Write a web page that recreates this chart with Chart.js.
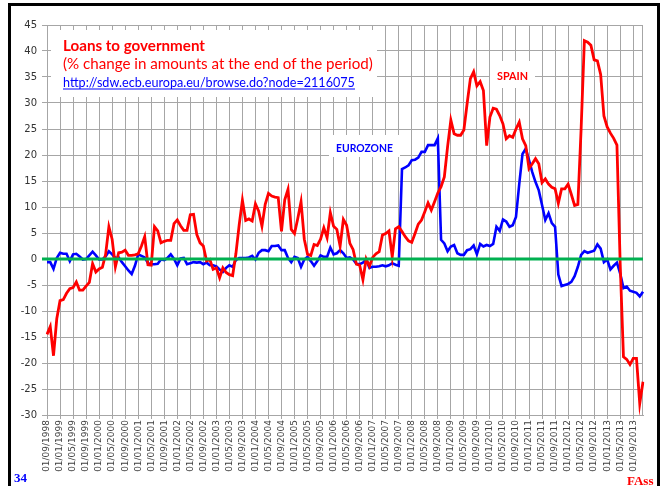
<!DOCTYPE html>
<html>
<head>
<meta charset="utf-8">
<script src="https://cdn.jsdelivr.net/npm/chart.js@4.4.1/dist/chart.umd.min.js"></script>
<style>
  html, body { margin: 0; padding: 0; background: #fff; }
  #wrap { width: 666px; height: 486px; }
</style>
</head>
<body>
<div id="wrap"><canvas id="loans_chart" width="666" height="486"></canvas></div>
<script>
// monthly % change, Sept 1998 .. Dec 2013
const spain = [
      -14.5, -13.0, -18.6, -11.5, -8.0, -7.8, -6.6, -5.7, -5.5, -4.4, -6.0, -6.0,
      -5.2, -4.5, -0.9, -2.5, -1.9, -1.6, 0.9, 6.2, 3.8, -1.5, 1.2, 1.3,
      1.7, 0.7, 0.7, 0.8, 1.0, 2.5, 4.3, -1.1, -1.2, 6.2, 5.4, 3.1,
      3.4, 3.6, 3.6, 6.8, 7.5, 6.4, 5.5, 5.5, 8.5, 8.6, 4.7, 3.1,
      2.5, -0.4, -0.1, -2.0, -1.7, -3.6, -1.7, -2.6, -3.0, -3.2, 1.0, 6.5,
      11.3, 7.4, 7.7, 7.3, 10.6, 9.2, 6.3, 10.5, 12.6, 12.1, 11.9, 11.8,
      5.3, 11.4, 13.4, 5.7, 4.9, 7.8, 11.0, 3.8, 0.9, 0.7, 2.8, 2.6,
      3.8, 6.0, 4.1, 8.9, 6.3, 5.7, 2.5, 7.6, 6.5, 3.0, 1.8, -1.0,
      -1.2, -4.0, 0.0, -1.4, 0.3, 1.0, 1.4, 4.6, 4.9, 5.4, 0.4, 5.8,
      6.2, 5.3, 4.3, 3.5, 3.2, 4.9, 6.7, 7.5, 9.1, 10.8, 9.4, 11.0,
      12.7, 13.9, 15.8, 21.6, 26.7, 24.1, 23.8, 23.8, 24.8, 29.9, 34.7, 36.0,
      33.3, 34.1, 32.4, 21.8, 27.3, 29.0, 28.8, 27.6, 26.0, 23.1, 23.7, 23.4,
      25.0, 26.3, 23.1, 21.8, 17.4, 18.3, 19.3, 18.3, 14.7, 15.4, 14.4, 13.8,
      13.5, 10.7, 13.5, 13.5, 14.4, 12.4, 10.3, 10.5, 25.0, 42.0, 41.7, 41.1,
      38.3, 38.1, 35.5, 27.5, 25.4, 24.2, 23.2, 21.9, -1.0, -18.8, -19.3, -20.3,
      -19.1, -19.1, -27.8, -23.6
];
const eurozone = [
      -0.6, -0.6, -1.9, 0.2, 1.2, 1.0, 1.0, -0.4, 0.9, 1.0, 0.5, -0.1,
      0.0, 0.7, 1.4, 0.7, -0.1, -0.1, 0.5, 1.5, 0.9, 0.2, 0.3, -0.6,
      -1.4, -2.2, -2.9, -1.3, 0.9, 0.6, 0.3, -0.8, -1.0, -1.0, -0.9, -0.1,
      -0.2, 0.2, 0.9, 0.0, -1.2, 0.1, 0.2, -1.0, -0.8, -0.6, -0.7, -0.6,
      -1.0, -0.7, -1.2, -1.2, -1.4, -2.0, -2.5, -1.7, -1.2, -1.5, -0.2, 0.2,
      0.2, 0.2, 0.3, 0.6, -0.1, 1.2, 1.7, 1.7, 1.5, 2.5, 2.5, 2.6,
      1.7, 1.7, 0.2, -0.6, 0.4, 0.2, -1.5, -0.1, 0.4, -0.4, -1.3, -0.4,
      0.7, 0.4, 0.4, 2.2, 0.9, 1.1, 1.7, 1.1, 0.2, 0.3, -0.1, -0.9,
      -1.0, -0.7, -0.1, -1.7, -1.5, -1.5, -1.4, -1.2, -1.4, -1.2, -0.8, -1.1,
      -1.3, 17.3, 17.6, 18.0, 19.0, 19.1, 19.5, 20.6, 20.6, 21.9, 21.9, 21.9,
      23.2, 3.7, 3.0, 1.5, 2.4, 2.7, 1.1, 0.8, 0.8, 1.7, 1.9, 2.6,
      0.9, 2.9, 2.4, 2.7, 2.5, 2.9, 6.2, 5.4, 7.6, 7.2, 6.2, 6.5,
      8.1, 14.4, 20.2, 21.2, 19.0, 16.7, 14.8, 13.2, 10.4, 7.5, 8.8, 6.9,
      6.2, -3.0, -5.2, -5.0, -4.8, -4.4, -3.3, -1.5, 0.8, 1.5, 1.2, 1.4,
      1.6, 2.8, 2.0, -0.6, -0.1, -2.0, -1.3, -0.7, -2.8, -5.6, -5.3, -6.1,
      -6.3, -6.5, -7.2, -6.3
];
const startYear = 1998;
const startMonth = 9;
const labelEvery = 4;

const titleLines = [
      'Loans to government',
      '(% change in amounts at the end of the period)',
      'http://sdw.ecb.europa.eu/browse.do?node=2116075'
];
const seriesNames = ['SPAIN', 'EUROZONE'];
const pageNumber = '34';
const signature = 'FAss';

// category labels, one per month
const labels = [];
for (let i = 0; i < spain.length; i++)
{
      const t = startMonth - 1 + i;
      const mm = (t % 12) + 1;
      const yy = startYear + Math.floor(t / 12);
      labels.push('01/' + (mm < 10 ? '0' + mm : mm) + '/' + yy);
}

const gridGray = '#a6a6a6';

function fitFont(ctx, text, weight, family, width)
{
      ctx.font = weight + ' 100px ' + family;
      const size = 100 * width / ctx.measureText(text).width;
      ctx.font = weight + ' ' + size.toFixed(2) + 'px ' + family;
}

const decor = {
      id: 'decor',
      beforeDatasetsDraw(chart)
      {
            const ctx = chart.ctx;
            const a = chart.chartArea;
            ctx.save();
            ctx.strokeStyle = gridGray;
            ctx.lineWidth = 1;
            ctx.strokeRect(a.left + 0.5, a.top + 0.5, a.right - a.left - 1, a.bottom - a.top);
            ctx.restore();
      },
      afterDatasetsDraw(chart)
      {
            // green zero reference line
            const ctx = chart.ctx;
            const y0 = chart.scales.y.getPixelForValue(0);
            ctx.save();
            ctx.strokeStyle = '#00b050';
            ctx.lineWidth = 3;
            ctx.beginPath();
            ctx.moveTo(chart.chartArea.left - 5, y0);
            ctx.lineTo(chart.chartArea.right, y0);
            ctx.stroke();
            ctx.restore();
      },
      afterDraw(chart)
      {
            const ctx = chart.ctx;
            ctx.save();

            // title box
            ctx.fillStyle = '#fff';
            ctx.fillRect(51, 30, 326, 67);
            ctx.textBaseline = 'alphabetic';
            ctx.textAlign = 'left';
            ctx.fillStyle = '#ff0000';
            fitFont(ctx, titleLines[0], 'bold', 'Lato', 142);
            ctx.fillText(titleLines[0], 63, 51);
            fitFont(ctx, titleLines[1], 'normal', 'Lato', 310);
            ctx.fillText(titleLines[1], 63, 69);
            ctx.fillStyle = '#0000ff';
            fitFont(ctx, titleLines[2], 'normal', 'Lato', 292);
            ctx.fillText(titleLines[2], 63, 86.5);
            ctx.fillRect(63, 88.5, 292, 1);

            // series labels
            ctx.fillStyle = '#fff';
            ctx.fillRect(329, 135, 71, 22);
            ctx.fillRect(490, 61, 45, 27);
            ctx.fillStyle = '#0000ff';
            fitFont(ctx, seriesNames[1], 'bold', 'Lato', 57);
            ctx.fillText(seriesNames[1], 336, 151.5);
            ctx.fillStyle = '#ff0000';
            fitFont(ctx, seriesNames[0], 'bold', 'Lato', 31);
            ctx.fillText(seriesNames[0], 497, 79.5);

            // slide frame and footer
            ctx.fillStyle = '#000';
            ctx.fillRect(8, 3, 652, 3);
            ctx.fillRect(8, 3, 3, 483);
            ctx.fillRect(657, 3, 3, 483);
            ctx.font = 'bold 13px "Liberation Serif"';
            ctx.fillStyle = '#0000ff';
            ctx.fillText(pageNumber, 14, 482);
            ctx.fillStyle = '#ff0000';
            ctx.fillText(signature, 627, 485);
            ctx.restore();
      }
};

const config = {
      type: 'line',
      data: {
            labels: labels,
            datasets: [
                  {
                        label: 'Spain',
                        data: spain,
                        borderColor: '#ff0000',
                        borderWidth: 2.8,
                        pointRadius: 0,
                        tension: 0,
                        order: 1
                  },
                  {
                        label: 'Eurozone',
                        data: eurozone,
                        borderColor: '#0000ff',
                        borderWidth: 2.6,
                        pointRadius: 0,
                        tension: 0,
                        order: 2
                  }
            ]
      },
      options: {
            responsive: false,
            animation: false,
            layout: {
                  padding: { left: 0, top: 25, right: 23, bottom: 0 }
            },
            scales: {
                  x: {
                        offset: false,
                        afterFit: function (scale) { scale.height = 71; },
                        grid: {
                              offset: false,
                              tickLength: 4,
                              color: function (c) { return c.index % labelEvery === 0 ? gridGray : 'rgba(0,0,0,0)'; }
                        },
                        border: { color: gridGray },
                        ticks: {
                              autoSkip: false,
                              minRotation: 90,
                              maxRotation: 90,
                              padding: 1,
                              color: '#404040',
                              font: { family: 'DejaVu Sans', size: 9 },
                              callback: function (value, index) { return index % labelEvery === 0 ? labels[index] : ''; }
                        }
                  },
                  y: {
                        min: -30,
                        max: 45,
                        afterFit: function (scale) { scale.width = 47; },
                        grid: { color: gridGray, tickLength: 5 },
                        border: { color: gridGray },
                        ticks: {
                              stepSize: 5,
                              padding: 5,
                              color: '#333',
                              font: { family: 'DejaVu Sans', size: 10 }
                        }
                  }
            },
            plugins: {
                  legend: { display: false },
                  tooltip: { enabled: false }
            }
      },
      plugins: [decor]
};

new Chart(document.getElementById('loans_chart'), config);
</script>
</body>
</html>
